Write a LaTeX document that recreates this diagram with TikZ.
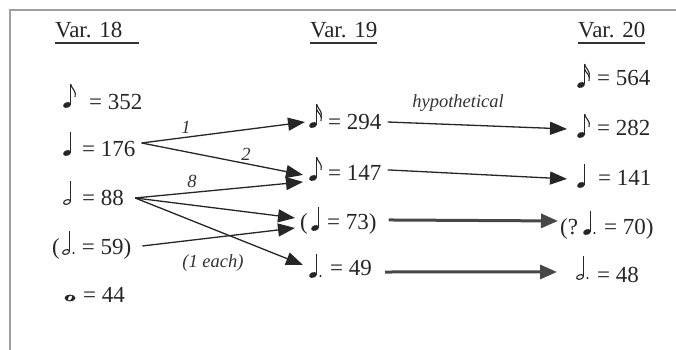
\documentclass[tikz,border=0pt]{standalone}
\usepackage{fontspec}
\setmainfont{Liberation Serif}
\usetikzlibrary{arrows.meta}
\newcommand\mqhead{\fill[rotate=20] (0,0) ellipse (4 and 2.8);}
\newcommand\mhhead{\draw[line width=1.1,rotate=20] (0,0) ellipse (3.5 and 2.2);}
\newcommand\mstem{\draw[line width=0.9] (3.6,-0.5) -- (3.6,-21);}
\newcommand\mflagA{\draw[line width=1.1] (3.6,-21) .. controls (4.5,-16) and (10,-14) .. (8,-8);}
\newcommand\mflagB{\draw[line width=1.1] (3.6,-16) .. controls (4.5,-12) and (10,-10) .. (8,-4);}
\tikzset{
  pics/nq/.style={code={\mqhead\mstem}},
  pics/ne/.style={code={\mqhead\mstem\mflagA}},
  pics/ns/.style={code={\mqhead\mstem\mflagA\mflagB}},
  pics/nh/.style={code={\mhhead\mstem}},
  pics/nw/.style={code={\fill (0,0) ellipse (5.5 and 3.4); \fill[white,rotate=60] (0,0) ellipse (2.6 and 1.6);}},
  pics/ndot/.style={code={\fill (7.5,1) circle (1.2);}},
  entry/.style={font=\fontsize{23}{26}\selectfont, inner sep=0pt, anchor=base west, text=black!85},
  hdr/.style={font=\fontsize{23}{26}\selectfont, inner sep=0pt, anchor=base west, text=black!85},
  lab/.style={font=\fontsize{18.5}{20}\selectfont\itshape, inner sep=0pt, text=black!80},
  arr/.style={draw=black!85, line width=1.3, -{Triangle[length=17pt,width=13pt]}},
  thickarr/.style={draw=black!72, line width=3, -{Triangle[length=17pt,width=14pt]}},
  uline/.style={draw=black!80, line width=1.6},
  notecol/.style={black!85}
}
\begin{document}
\begin{tikzpicture}[x=1pt,y=-1pt]
\useasboundingbox (0,0) rectangle (676,350);
\fill[white] (0,0) rectangle (676,350);
\draw[gray!75, line width=2] (10,350) -- (10,10) -- (676,10);

% headers
\node[hdr] (h18) at (55,38) {Var. 18};
\node[hdr] (h19) at (310,38) {Var. 19};
\node[hdr] (h20) at (578,38) {Var. 20};
\draw[uline] ([yshift=-5pt]h18.base west) -- ([yshift=-5pt,xshift=17pt]h18.base east);
\draw[uline] ([yshift=-5pt]h19.base west) -- ([yshift=-5pt]h19.base east);
\draw[uline] ([yshift=-5pt]h20.base west) -- ([yshift=-5pt]h20.base east);

% column 1
\node[entry] (e352) at (63,109.5) {\hspace*{26pt}= 352};
\node[entry] (e176) at (63,156.5) {\hspace*{19pt}= 176};
\node[entry] (e88) at (63,205.5) {\hspace*{19pt}= 88};
\node[entry] (e59) at (52,254.5) {(\hspace*{22pt}= 59)};
\node[entry] (e44) at (63,302.5) {\hspace*{20pt}= 44};
% column 2
\node[entry] (e294) at (309,129.5) {\hspace*{19pt}= 294};
\node[entry] (e147) at (309,180.5) {\hspace*{19pt}= 147};
\node[entry] (e73) at (300,229.5) {(\hspace*{19.3pt}= 73)};
\node[entry] (e49) at (309,275.5) {\hspace*{21pt}= 49};
% column 3
\node[entry] (e564) at (577,85.5) {\hspace*{20pt}= 564};
\node[entry] (e282) at (577,135.5) {\hspace*{20pt}= 282};
\node[entry] (e141) at (577,185.5) {\hspace*{21pt}= 141};
\node[entry] (e70) at (560,234.5) {(?\hspace*{26pt}= 70)};
\node[entry] (e48) at (577,282.5) {\hspace*{20pt}= 48};

% notes
\begin{scope}[notecol]
\pic at (67,105) {ne};
\pic at (67,153) {nq};
\pic at (67,202) {nh};
\pic at (66,252) {nh};
\pic at (66,252) {ndot};
\pic at (70,298) {nw};
\pic at (313,125) {ns};
\pic at (313,178) {ne};
\pic at (315,228) {nq};
\pic at (313,275) {nq};
\pic at (313,275) {ndot};
\pic at (581,85) {ns};
\pic at (581,135) {ne};
\pic at (581,185) {nq};
\pic at (587,232) {nq};
\pic at (587,232) {ndot};
\pic at (580,277) {nh};
\pic at (580,277) {ndot};
\end{scope}

% arrows from Var. 18 to Var. 19
\draw[arr] ([xshift=6pt,yshift=6pt]e176.east) -- ([xshift=-4pt]e294.west);
\draw[arr] ([xshift=6pt,yshift=6pt]e176.east) -- ([xshift=-6pt,yshift=-2pt]e147.west);
\draw[arr] ([xshift=11pt]e88.east) -- ([xshift=-6pt,yshift=-9pt]e147.west);
\draw[arr] ([xshift=11pt]e88.east) -- ([xshift=-5pt,yshift=6pt]e73.west);
\draw[arr] ([xshift=11pt]e88.east) -- ([xshift=-6pt,yshift=3pt]e49.west);
\draw[arr] ([xshift=11pt,yshift=3pt]e59.east) -- ([xshift=-5pt,yshift=-4pt]e73.west);

% arrows from Var. 19 to Var. 20
\draw[arr] ([xshift=6pt]e294.east) -- ([xshift=-10pt,yshift=-1pt]e282.west);
\draw[arr] ([xshift=6pt,yshift=3pt]e147.east) -- ([xshift=-10pt,yshift=-1pt]e141.west);
\draw[thickarr] ([xshift=12pt,yshift=4pt]e73.east) -- ([xshift=-2pt,yshift=8pt]e70.west);
\draw[thickarr] ([xshift=13pt,yshift=-4pt]e49.east) -- ([xshift=-20pt,yshift=3pt]e48.west);

% labels
\node[lab] (l1) at (186,127.5) {1};
\node[lab] (l2) at (246,154.5) {2};
\node[lab] (l8) at (192,181) {8};
\node[lab] (leach) at (213,263) {(1 each)};
\node[lab] (lhyp) at (458,103) {hypothetical};
\end{tikzpicture}
\end{document}
